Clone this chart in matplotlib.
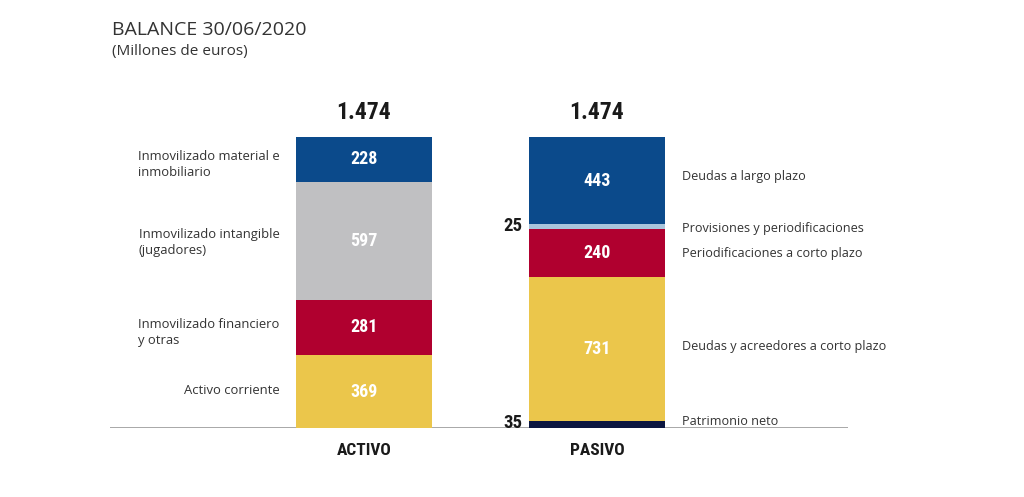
import matplotlib.pyplot as plt

# data (millones de euros)
activo_labels = ['Activo corriente', 'Inmovilizado financiero\ny otras',
                 'Inmovilizado intangible\n(jugadores)', 'Inmovilizado material e\ninmobiliario']
activo_vals = [369, 281, 597, 228]
activo_colors = ['#ebc64b', '#b0002f', '#c0c0c2', '#0b4a8b']

pasivo_labels = ['Patrimonio neto', 'Deudas y acreedores a corto plazo',
                 'Periodificaciones a corto plazo', 'Provisiones y periodificaciones',
                 'Deudas a largo plazo']
pasivo_vals = [35, 731, 240, 25, 443]
pasivo_colors = ['#0c1640', '#ebc64b', '#b0002f', '#a9c5dc', '#0b4a8b']
pasivo_small = [True, False, False, True, False]  # value shown outside

totals = ['1.474', '1.474']
cats = ['ACTIVO', 'PASIVO']

label_font = 'Open Sans'
num_font = ['Roboto Condensed', 'Liberation Sans Narrow', 'Roboto', 'DejaVu Sans']

fig = plt.figure(figsize=(10.24, 4.97), dpi=100)
ax = fig.add_axes([0.1074, 0.1388, 0.7207, 0.5855])
ax.set_xlim(-1.09, 2.077)
ax.set_ylim(0, 1474)
ax.axis('off')
w = 0.584

# baseline
ax.axhline(0, color='#9a9a9a', lw=1.2, zorder=1)

# ACTIVO
bottom = 0
left_shift = [1, -4, -1.5, -4]
for lab, v, c, sh in zip(activo_labels, activo_vals, activo_colors, left_shift):
    ax.bar(0, v, width=w, bottom=bottom, color=c, zorder=2)
    mid = bottom + v / 2
    ax.text(0, mid, str(v), ha='center', va='center', color='white',
            fontsize=13, fontweight='bold', family=num_font)
    ax.annotate(lab, xy=(-w / 2, mid), xytext=(-12, sh), textcoords='offset points',
                ha='right', va='center', multialignment='left',
                fontsize=9.4, color='#333333', family=label_font, linespacing=1.3)
    bottom += v

# PASIVO
bottom = 0
label_shift = [2, 2, 0, -1, 3]
for lab, v, c, small, sh in zip(pasivo_labels, pasivo_vals, pasivo_colors,
                                pasivo_small, label_shift):
    ax.bar(1, v, width=w, bottom=bottom, color=c, zorder=2)
    mid = bottom + v / 2
    if small:
        ax.annotate(str(v), xy=(1 - w / 2, mid), xytext=(-5, 1),
                    textcoords='offset points', ha='right', va='center',
                    fontsize=13.5, fontweight='bold', color='#1a1a1a', family=num_font)
    else:
        ax.text(1, mid, str(v), ha='center', va='center', color='white',
                fontsize=13, fontweight='bold', family=num_font)
    ax.annotate(lab, xy=(1 + w / 2, mid), xytext=(12, sh), textcoords='offset points',
                ha='left', va='center', fontsize=9.1, color='#333333', family=label_font)
    bottom += v

# totals and category names
for i, (t, c) in enumerate(zip(totals, cats)):
    ax.annotate(t, xy=(i, 1474), xytext=(0, 18), textcoords='offset points',
                ha='center', va='center', fontsize=17, fontweight='bold',
                color='#1a1a1a', family=num_font)
    ax.annotate(c, xy=(i, 0), xytext=(0, -16), textcoords='offset points',
                ha='center', va='center', fontsize=12.5, fontweight='bold',
                color='#1a1a1a', family=num_font)

fig.text(112 / 1024, 1 - 30 / 497, 'BALANCE 30/06/2020', fontsize=14,
         color='#333333', family=label_font, va='center', ha='left')
fig.text(112 / 1024, 1 - 51 / 497, '(Millones de euros)', fontsize=11,
         color='#333333', family=label_font, va='center', ha='left')

fig.savefig('out.png', dpi=100, facecolor='white')
